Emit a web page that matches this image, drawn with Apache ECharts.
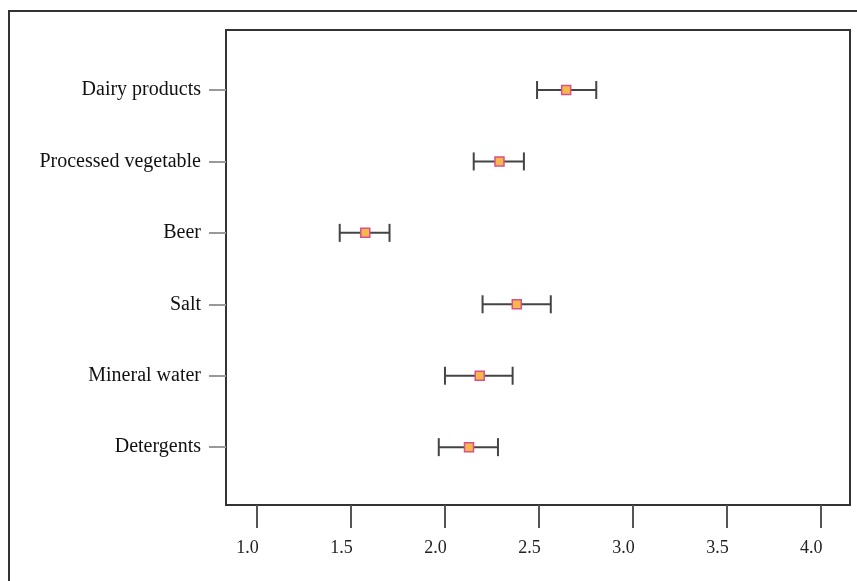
<!DOCTYPE html>
<html>
<head>
<meta charset="utf-8">
<script src="https://cdn.jsdelivr.net/npm/echarts@6/dist/echarts.min.js"></script>
<style>html,body{margin:0;padding:0;background:#fff}#c{width:857px;height:581px}</style>
</head>
<body>
<div id="c"></div>
<script>
var categories = ['Dairy products', 'Processed vegetable', 'Beer', 'Salt', 'Mineral water', 'Detergents'];
var means = [2.645, 2.29, 1.576, 2.382, 2.185, 2.128];
var lows  = [2.49, 2.153, 1.44, 2.20, 2.00, 1.967];
var highs = [2.805, 2.42, 1.705, 2.563, 2.36, 2.282];
var xTicks = [1.0, 1.5, 2.0, 2.5, 3.0, 3.5, 4.0];
var positions = [1, 2, 3, 4, 5, 6];

var chart = echarts.init(document.getElementById('c'), null, {renderer: 'canvas'});
var errData = categories.map(function (c, i) { return [lows[i], highs[i], positions[i]]; });
var ptData = categories.map(function (c, i) { return [means[i], positions[i]]; });

chart.setOption({
  animation: false,
  backgroundColor: '#ffffff',
  grid: {left: 226, right: 7, top: 30, bottom: 76, show: true, borderColor: '#333', borderWidth: 2, backgroundColor: 'transparent'},
  graphic: [{
    type: 'rect', shape: {x: 9, y: 11, width: 900, height: 600},
    style: {fill: 'none', stroke: '#333', lineWidth: 2}, silent: true
  }],
  xAxis: {
    type: 'value', min: 0.835, max: 4.155,
    axisLine: {show: false},
    splitLine: {show: false},
    axisTick: {show: true, customValues: xTicks, length: 23, lineStyle: {color: '#555', width: 2}},
    axisLabel: {
      customValues: xTicks, margin: 34,
      fontFamily: 'Liberation Serif', fontSize: 18, color: '#222',
      padding: [0, 19, 0, 0],
      formatter: function (v) { return v.toFixed(1); }
    }
  },
  yAxis: {
    type: 'value', min: 0.16, max: 6.81, inverse: true,
    axisLine: {show: false},
    splitLine: {show: false},
    axisTick: {show: true, customValues: positions, length: 17, lineStyle: {color: '#999', width: 2}},
    axisLabel: {
      customValues: positions, margin: 25,
      fontFamily: 'Liberation Serif', fontSize: 20, color: '#111',
      formatter: function (v) { return categories[Math.round(v) - 1] || ''; }
    }
  },
  series: [{
    type: 'custom',
    data: errData,
    encode: {x: [0, 1], y: 2},
    renderItem: function (params, api) {
      var p1 = api.coord([api.value(0), api.value(2)]);
      var p2 = api.coord([api.value(1), api.value(2)]);
      var h = 9;
      var st = {stroke: '#444', lineWidth: 2};
      return {type: 'group', children: [
        {type: 'line', shape: {x1: p1[0], y1: p1[1], x2: p2[0], y2: p2[1]}, style: st},
        {type: 'line', shape: {x1: p1[0], y1: p1[1] - h, x2: p1[0], y2: p1[1] + h}, style: st},
        {type: 'line', shape: {x1: p2[0], y1: p2[1] - h, x2: p2[0], y2: p2[1] + h}, style: st}
      ]};
    },
    z: 2
  }, {
    type: 'scatter',
    data: ptData,
    symbol: 'rect', symbolSize: 9,
    itemStyle: {color: '#f7b84b', borderColor: '#d9508a', borderWidth: 1.5, opacity: 1},
    z: 3
  }]
});
</script>
</body>
</html>
